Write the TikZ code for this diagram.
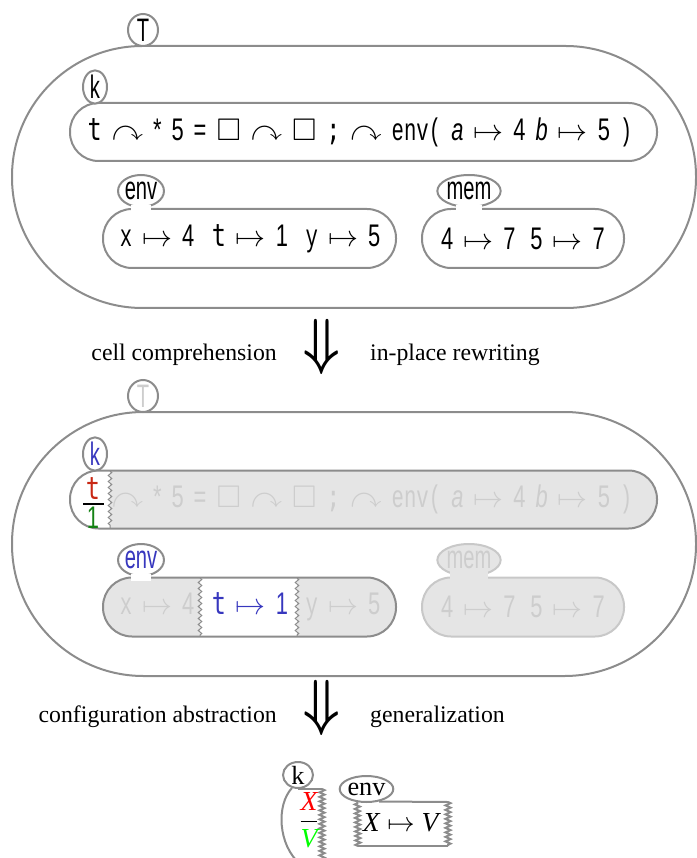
\documentclass[tikz,border=0pt]{standalone}
\usepackage{amsmath,amssymb}
\usepackage{fontspec}
\setmainfont{Liberation Serif}
\newfontfamily\cellsans{Liberation Sans}[FakeStretch=0.7]
\newfontfamily\labsans{Liberation Sans}[FakeStretch=0.62]
\newfontfamily\cellmono{DejaVu Sans Mono}[FakeStretch=0.75]
\newfontfamily\cellcour{Liberation Mono}[FakeStretch=0.66]
\usetikzlibrary{shapes.geometric,positioning,decorations.pathmorphing}

\definecolor{cellline}{RGB}{140,140,140}
\definecolor{cellfill}{RGB}{229,229,229}
\definecolor{fadetext}{RGB}{205,205,205}
\definecolor{fadeline}{RGB}{200,200,200}
\definecolor{kblue}{RGB}{55,55,190}
\definecolor{kred}{RGB}{200,40,20}
\definecolor{kgreen}{RGB}{20,130,20}

\newcommand{\mono}[1]{{\cellmono #1}}
\newcommand{\cour}[1]{{\cellcour #1}}
\newcommand{\mt}{$\mapsto$}
\newcommand{\nxt}{$\curvearrowright$}
\newcommand{\hole}{$\Box$}
\newcommand{\bigdown}{\scalebox{1}[1.2]{$\boldsymbol{\Downarrow}$}}

\begin{document}
\begin{tikzpicture}[x=0.4pt, y=-0.4pt,
    cell/.style 2 args={rectangle, draw=cellline, line width=0.8pt, inner sep=0pt,
        minimum width=#1*0.4pt, minimum height=#2*0.4pt, rounded corners=#2*0.2pt-0.2pt},
    lab/.style 2 args={ellipse, draw=cellline, line width=0.8pt, fill=white, inner sep=0pt,
        minimum width=#1*0.4pt, minimum height=#2*0.4pt, font=\labsans\fontsize{13}{15}\selectfont},
    code/.style={inner sep=0pt, font=\cellsans\fontsize{12.5}{14}\selectfont,
        execute at begin node={\spaceskip=4pt\relax}},
    note/.style={inner sep=0pt, font=\rmfamily\fontsize{9.5}{11}\selectfont},
    border/.style={draw=cellline, line width=0.8pt},
    rag/.style={draw=cellline, line width=0.4pt, decorate,
        decoration={zigzag, segment length=2.4pt, amplitude=0.7pt}},
    zig/.style={decorate, decoration={zigzag, segment length=1.8pt, amplitude=1pt}}]
    \useasboundingbox (0,0) rectangle (696,858);

    % original configuration
    \node[cell={684}{262}] (T) at (354,177) {};
    \node[lab={30}{32}] (T-lab) at (143,30) {T};
    \node[cell={587}{58}] (k) at (363.5,132) {};
    \node[lab={24}{30}] (k-lab) at (95,87) {k};
    \node[code] (k-txt) at (360,132) {\mono{t} \nxt{} * 5 = \hole{} \nxt{} \hole{} \mono{;} \nxt{} \cour{env(} \textit{a} \mt{} 4 \textit{b} \mt{} 5 \cour{)}};

    \node[cell={293}{59}] (env) at (249.5,238.5) {};
    \node[lab={42}{32}] (env-lab) at (141,191) {env};
    \fill[white] (131,205) rectangle (151,212);
    \node[code] (env-txt) at (250,239) {\cour{x} \mt{} 4\hspace{3pt} \mono{t} \mt{} 1\hspace{3pt} \cour{y} \mt{} 5};

    \node[cell={202}{59}] (mem) at (523,238.5) {};
    \node[lab={54}{32}] (mem-lab) at (469,191) {mem};
    \fill[white] (456,205) rectangle (482,212);
    \node[code] (mem-txt) at (523,239) {4 \mt{} 7\hspace{2pt} 5 \mt{} 7};

    \node[inner sep=0pt, font=\huge] (step1) at (322,347) {\bigdown};
    \node[note, left=10.4pt of step1, yshift=-3.2pt] {cell comprehension};
    \node[note, right=11.6pt of step1, yshift=-3.2pt] {in-place rewriting};

    % rule with cell comprehension
    \node[cell={684}{264}] (T2) at (354,544) {};
    \node[lab={30}{32}, text=fadetext] (T2-lab) at (143,396) {T};

    \begin{scope}
        \clip (110,460) rectangle (670,540);
        \fill[cellfill, rounded corners=11.4pt] (70,470.5) rectangle (657,528.5);
    \end{scope}
    \node[cell={587}{58}] (k2) at (363.5,499.5) {};
    \draw[rag] (110,471) -- (110,528);
    \node[lab={24}{30}, text=kblue] (k2-lab) at (95,454) {k};
    \node[code, text=fadetext] (k2-txt) at (360,499.5) {\phantom{\mono{t}} \nxt{} * 5 = \hole{} \nxt{} \hole{} \mono{;} \nxt{} \cour{env(} \textit{a} \mt{} 4 \textit{b} \mt{} 5 \cour{)}};
    \node[code, text=kred] (k2-old) at (93,489) {\mono{t}};
    \node[code, text=kgreen] (k2-new) at (93,518) {1};
    \draw[line width=0.8pt] (83,503.5) -- (104,503.5);

    \begin{scope}
        \clip (90,560) rectangle (200,650) (297,560) rectangle (410,650);
        \fill[cellfill, rounded corners=11.6pt] (103,577.5) rectangle (396,636.5);
    \end{scope}
    \node[cell={293}{59}] (env2) at (249.5,607) {};
    \draw[rag] (200,578) -- (200,636);
    \draw[rag] (297,578) -- (297,636);
    \node[lab={42}{32}, text=kblue] (env2-lab) at (141,560) {env};
    \fill[white] (131,574) rectangle (151,581);
    \node[code, text=fadetext] (env2-txt) at (250,607) {\cour{x} \mt{} 4\hspace{3pt} \textcolor{kblue}{\mono{t} \mt{} 1}\hspace{3pt} \cour{y} \mt{} 5};

    \node[cell={202}{59}, draw=fadeline, fill=cellfill] (mem2) at (523,607) {};
    \node[lab={54}{32}, draw=fadeline, fill=cellfill, text=fadetext] (mem2-lab) at (469,560) {mem};
    \fill[cellfill] (450,570) rectangle (488,580);
    \node[code, text=fadetext] (mem2-txt) at (523,607) {4 \mt{} 7\hspace{2pt} 5 \mt{} 7};

    \node[inner sep=0pt, font=\huge] (step2) at (322,708) {\bigdown};
    \node[note, left=10.4pt of step2, yshift=-3.6pt] {configuration abstraction};
    \node[note, right=11.6pt of step2, yshift=-3.6pt] {generalization};

    % abstracted rule
    \coordinate (k3-ne) at (322,789);
    \coordinate (k3-se) at (322,864);
    \node[lab={30}{26}, font=\rmfamily\fontsize{10.5}{12}\selectfont] (k3-lab) at (298,775) {k};
    \draw[border] (k3-lab.south) -- (k3-ne);
    \draw[border, zig] (k3-ne) -- (k3-se);
    \draw[border] (k3-lab.-115) .. controls (276,805) and (278,845) .. (300,864);
    \node[inner sep=0pt, font=\rmfamily\itshape\fontsize{11}{13}\selectfont] (k3-txt) at (309,820) {$\genfrac{}{}{0.5pt}{0}{\hbox{\color{red}X}}{\hbox{\color{green}V}}$};

    \coordinate (env3-ne) at (448,802);
    \coordinate (env3-se) at (448,846);
    \coordinate (env3-sw) at (358,846);
    \node[lab={39}{26}, font=\rmfamily\fontsize{10.5}{12}\selectfont] (env3-lab) at (366.5,789) {env};
    \draw[border] (env3-lab.-45) -- (env3-ne);
    \draw[border, zig] (env3-ne) -- (env3-se);
    \draw[border] (env3-se) -- (env3-sw);
    \draw[border, zig] (env3-sw) -- (env3-lab.-125);
    \node[inner sep=0pt, font=\rmfamily\fontsize{11}{13}\selectfont] (env3-txt) at (402,823) {\textit{X} $\mapsto$ \textit{V}};
\end{tikzpicture}
\end{document}
